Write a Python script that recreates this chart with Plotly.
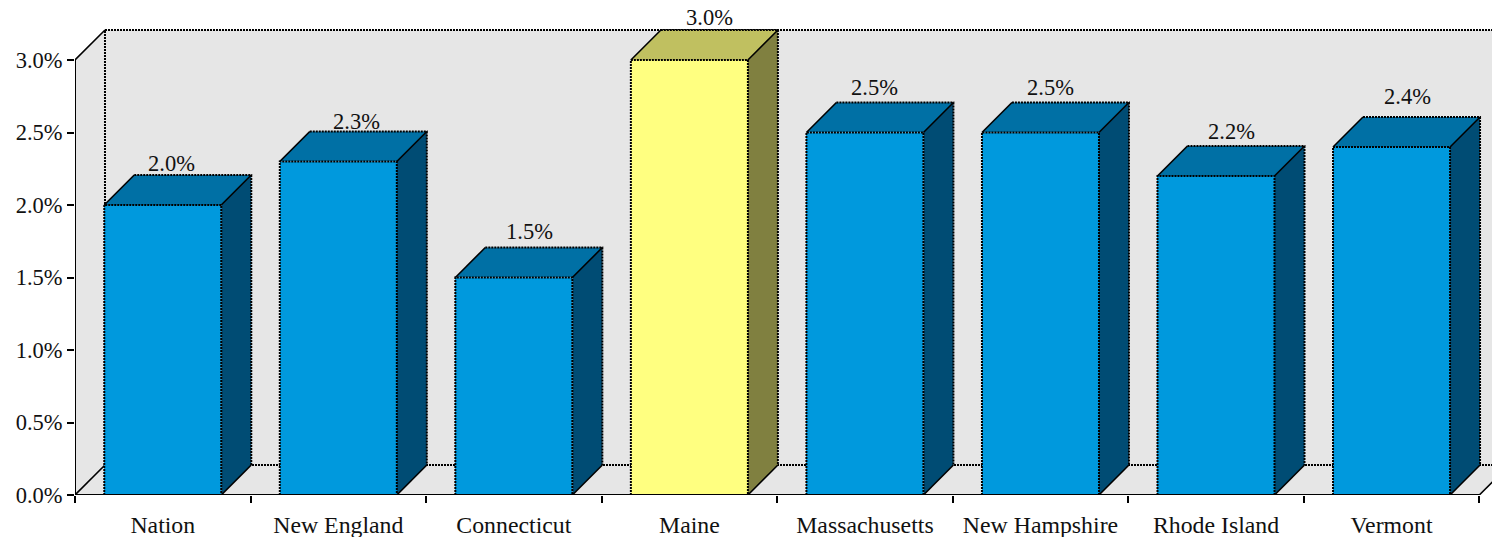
import plotly.graph_objects as go

categories = ["Nation", "New England", "Connecticut", "Maine", "Massachusetts",
              "New Hampshire", "Rhode Island", "Vermont"]
values = [2.0, 2.3, 1.5, 3.0, 2.5, 2.5, 2.2, 2.4]
value_labels = ["2.0%", "2.3%", "1.5%", "3.0%", "2.5%", "2.5%", "2.2%", "2.4%"]
y_ticks = [0, 0.5, 1.0, 1.5, 2.0, 2.5, 3.0]
y_tick_labels = ["0.0%", "0.5%", "1.0%", "1.5%", "2.0%", "2.5%", "3.0%"]
highlight = "Maine"

# label nudges in pixels, relative to the back-centre of each bar's top face
label_dx = [9, 18, 15.5, 20, 9.5, 10, 15.5, 15.5]
label_dy = [12, 10, 16, 13, 15, 15, 15, 21]

W, H = 1492, 537
L, B, T = 74.5, 42, 5
BAND = 175.6
UNIT = 145
DEPTH = 30
ddx, ddy = DEPTH / BAND, DEPTH / UNIT
n = len(categories)
ymax = (H - B - T) / UNIT
xmax = (W - L) / BAND
BW = 2 / 3
FONT = "Liberation Serif"
FS = 22.5
FSX = 23.8
DOT = "2px,1px"
DOTW = 2

BLUE = ("#0099DD", "#0070A5", "#004C74")
YEL = ("#FFFF80", "#C0C060", "#808040")
WALL = "#E6E6E6"

fig = go.Figure()

# front faces
centers = [i + 0.5 for i in range(n)]
fronts = [YEL[0] if c == highlight else BLUE[0] for c in categories]
fig.add_trace(go.Bar(x=centers, y=values, width=BW, marker=dict(color=fronts, line=dict(width=0)),
                     hoverinfo="skip", showlegend=False))

dot_x, dot_y, solid_x, solid_y = [], [], [], []


def seg(xs, ys, pts):
    for p in pts:
        xs.append(p[0])
        ys.append(p[1])
    xs.append(None)
    ys.append(None)


for i, (c, v) in enumerate(zip(categories, values)):
    x0, x1 = centers[i] - BW / 2, centers[i] + BW / 2
    pal = YEL if c == highlight else BLUE
    fig.add_trace(go.Scatter(x=[x0, x1, x1 + ddx, x0 + ddx, x0], y=[v, v, v + ddy, v + ddy, v],
                             mode="lines", fill="toself", fillcolor=pal[1], line=dict(width=0),
                             hoverinfo="skip", showlegend=False, cliponaxis=False))
    fig.add_trace(go.Scatter(x=[x1, x1 + ddx, x1 + ddx, x1, x1], y=[0, ddy, v + ddy, v, 0],
                             mode="lines", fill="toself", fillcolor=pal[2], line=dict(width=0),
                             hoverinfo="skip", showlegend=False, cliponaxis=False))
    seg(dot_x, dot_y, [(x0, 0), (x0, v), (x1, v), (x1, 0)])
    seg(dot_x, dot_y, [(x0 + ddx, v + ddy), (x1 + ddx, v + ddy), (x1 + ddx, ddy)])
    seg(solid_x, solid_y, [(x0, v), (x0 + ddx, v + ddy)])
    seg(solid_x, solid_y, [(x1, v), (x1 + ddx, v + ddy)])
    seg(solid_x, solid_y, [(x1, 0), (x1 + ddx, ddy)])

fig.add_trace(go.Scatter(x=dot_x, y=dot_y, mode="lines", line=dict(color="black", width=DOTW, dash=DOT),
                         hoverinfo="skip", showlegend=False, cliponaxis=False))
fig.add_trace(go.Scatter(x=solid_x, y=solid_y, mode="lines", line=dict(color="black", width=1.6),
                         hoverinfo="skip", showlegend=False, cliponaxis=False))

# walls and floor
top = y_ticks[-1]
shapes = [
    dict(type="path", path=f"M 0 0 L {ddx} {ddy} L {ddx} {top + ddy} L 0 {top} Z",
         fillcolor=WALL, line=dict(width=0), layer="below"),
    dict(type="rect", x0=ddx, x1=n + ddx, y0=ddy, y1=top + ddy,
         fillcolor=WALL, line=dict(width=0), layer="below"),
    dict(type="path", path=f"M 0 0 L {n} 0 L {n + ddx} {ddy} L {ddx} {ddy} Z",
         fillcolor=WALL, line=dict(width=0), layer="below"),
    # wall edges
    dict(type="line", x0=ddx, x1=ddx, y0=ddy, y1=top + ddy, layer="below",
         line=dict(color="black", width=DOTW, dash=DOT)),
    dict(type="line", x0=ddx, x1=n + ddx, y0=top + ddy, y1=top + ddy, layer="below",
         line=dict(color="black", width=DOTW, dash=DOT)),
    dict(type="line", x0=ddx, x1=n + ddx, y0=ddy, y1=ddy, layer="below",
         line=dict(color="black", width=DOTW, dash=DOT)),
    dict(type="line", x0=0, x1=ddx, y0=top, y1=top + ddy, layer="below",
         line=dict(color="black", width=1.6)),
    dict(type="line", x0=0, x1=ddx, y0=0, y1=ddy, layer="below",
         line=dict(color="black", width=1.6)),
    dict(type="line", x0=n, x1=n + ddx, y0=0, y1=ddy, layer="below",
         line=dict(color="black", width=1.6)),
    # axis lines
    dict(type="line", x0=0, x1=0, y0=0, y1=top, line=dict(color="black", width=2)),
    dict(type="line", x0=0, x1=n, y0=0, y1=0, line=dict(color="black", width=2)),
]

annotations = [
    dict(x=centers[i], y=values[i] + ddy, text=value_labels[i], showarrow=False,
         xanchor="center", yanchor="middle", xshift=label_dx[i], yshift=label_dy[i],
         font=dict(family=FONT, size=FS, color="#111111"))
    for i in range(n)
]

fig.update_layout(
    width=W, height=H,
    margin=dict(l=L, r=0, t=T, b=B, pad=0, autoexpand=False),
    paper_bgcolor="white", plot_bgcolor="white",
    showlegend=False, shapes=shapes, annotations=annotations,
    bargap=0,
    xaxis=dict(range=[0, xmax], showgrid=False, zeroline=False, showline=False, automargin=False,
               tickmode="array", tickvals=centers, ticktext=categories,
               ticks="outside", ticklen=8, tickcolor="rgba(0,0,0,0)", tickwidth=1,
               tickfont=dict(family=FONT, size=FSX, color="#111111"),
               minor=dict(tickmode="array", tickvals=list(range(n + 1)), ticks="outside",
                          ticklen=7, tickwidth=2, tickcolor="black", showgrid=False)),
    yaxis=dict(range=[0, ymax], showgrid=False, zeroline=False, showline=False, automargin=False,
               tickmode="array", tickvals=y_ticks, ticktext=y_tick_labels,
               ticks="outside", ticklen=7, tickwidth=2, tickcolor="black",
               tickfont=dict(family=FONT, size=FS, color="#111111")),
)

fig.write_html("out.html", config=dict(displayModeBar=False),
               post_script="document.body.style.margin='0';document.body.style.overflow='hidden';")
